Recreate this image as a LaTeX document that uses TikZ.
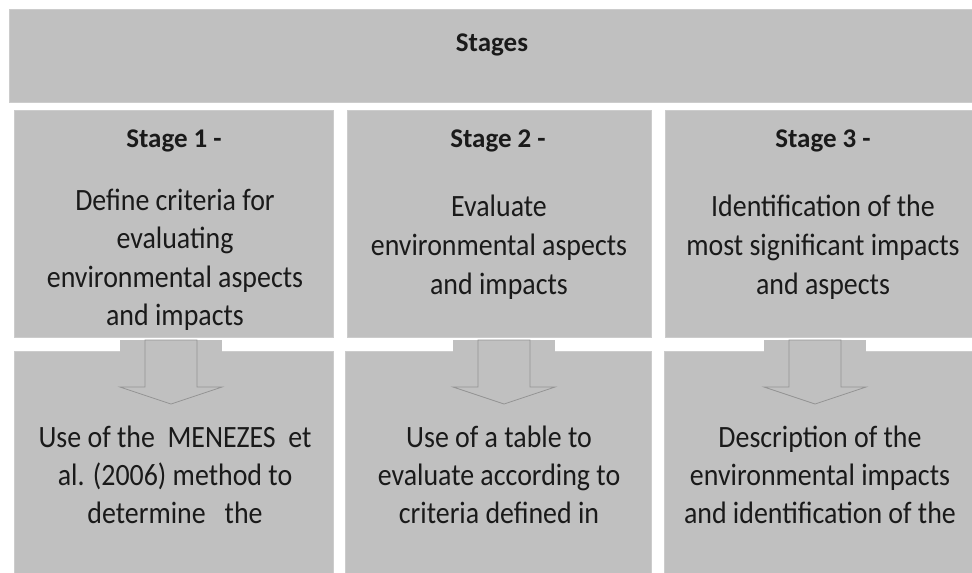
\documentclass[tikz,border=0pt]{standalone}
\usepackage{fontspec}
\setmainfont{Carlito}
\newfontfamily\bodyfont[FakeStretch=0.9]{Carlito}
\definecolor{boxgray}{HTML}{C0C0C0}
\definecolor{edgegray}{HTML}{CCCCCC}
\definecolor{arrowline}{HTML}{949494}
\definecolor{inkc}{HTML}{1A1A1A}
\begin{document}
\begin{tikzpicture}[x=1pt,y=-1pt,
  panel/.style={fill=boxgray, draw=edgegray, line width=0.8pt, anchor=north west, inner sep=0pt, outer sep=0pt},
  headtext/.style={font=\fontsize{27}{32}\selectfont\bfseries, text=inkc, anchor=base, inner sep=0pt},
  bodytext/.style={font=\bodyfont\fontsize{31}{38}\selectfont, text=inkc, anchor=base, inner sep=0pt},
  blockarrow/.style={fill=boxgray, draw=arrowline, line width=0.8pt, line join=miter}]
\useasboundingbox (0,0) rectangle (972,573);
\fill[white] (0,0) rectangle (972,573);
% panels
\node[panel, minimum width=963pt, minimum height=93pt] (top) at (9,9) {};
\node[panel, minimum width=319pt, minimum height=227pt] (s1) at (14,110) {};
\node[panel, minimum width=304pt, minimum height=227pt] (s2) at (347,110) {};
\node[panel, minimum width=310pt, minimum height=227pt] (s3) at (665,110) {};
\node[panel, minimum width=319pt, minimum height=225pt] (b1) at (14,351) {};
\node[panel, minimum width=306pt, minimum height=225pt] (b2) at (345,351) {};
\node[panel, minimum width=310pt, minimum height=225pt] (b3) at (664,351) {};
% block arrows
\foreach \cx/\nm in {171/a1, 504/a2, 815/a3}{
  \fill[boxgray] (\cx-51,340) rectangle (\cx+51,352);
  \coordinate (\nm) at (\cx,340);
  \draw[blockarrow] (\cx-26,340) -- (\cx+26,340) -- (\cx+26,387) -- (\cx+51,387)
        -- (\cx,404) -- (\cx-51,387) -- (\cx-26,387) -- cycle;
}
% texts
\node[headtext] (stages) at (492,51) {Stages};
\node[headtext] (h1) at (174,147) {Stage 1 -};
\node[headtext] (h2) at (498,147) {Stage 2 -};
\node[headtext] (h3) at (823,147) {Stage 3 -};
\foreach \t [count=\i] in {Define criteria for, evaluating, environmental aspects, and impacts}
  \node[bodytext] (t1\i) at (175,{210+38.5*(\i-1)}) {\t};
\foreach \t [count=\i] in {Evaluate, environmental aspects, and impacts}
  \node[bodytext] (t2\i) at (499,{216+39*(\i-1)}) {\t};
\foreach \t [count=\i] in {Identification of the, most significant impacts, and aspects}
  \node[bodytext] (t3\i) at (823,{216+39*(\i-1)}) {\t};
\foreach \t [count=\i] in {Use of the\ \ MENEZES\ \ et, al. (2006) method to, determine\ \ \ the}
  \node[bodytext] (u1\i) at (175,{447+38*(\i-1)}) {\t};
\foreach \t [count=\i] in {Use of a table to, evaluate according to, criteria defined in}
  \node[bodytext] (u2\i) at (499,{447+38*(\i-1)}) {\t};
\foreach \t [count=\i] in {Description of the, environmental impacts, and identification of the}
  \node[bodytext] (u3\i) at (820,{447+38*(\i-1)}) {\t};
\end{tikzpicture}
\end{document}
